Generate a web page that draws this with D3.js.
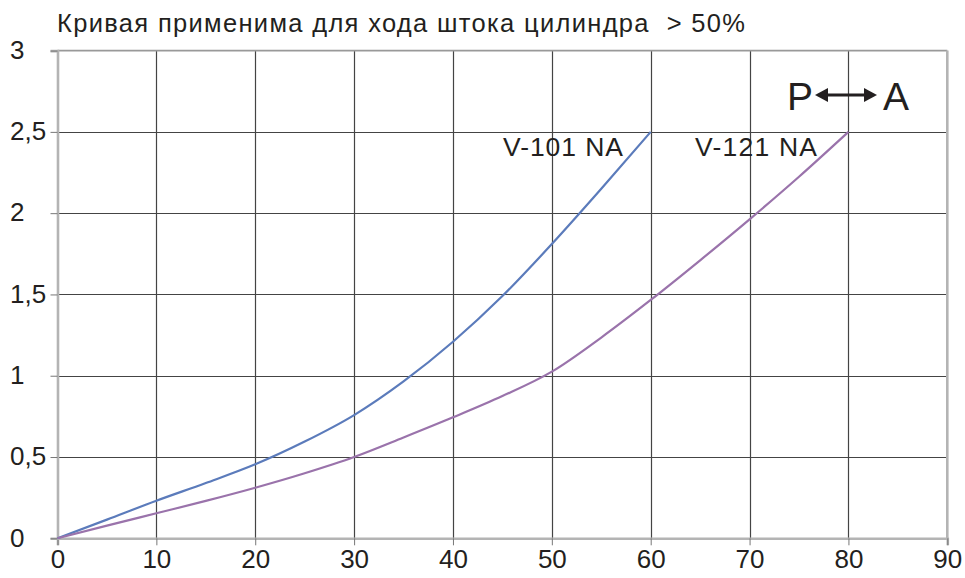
<!DOCTYPE html>
<html><head><meta charset="utf-8">
<script src="https://cdn.jsdelivr.net/npm/d3@7"></script>
<style>body{margin:0;background:#fff}svg{display:block}text{font-family:"Liberation Sans",Arial,sans-serif;fill:#231f20;white-space:pre}</style>
</head><body><svg id="c" width="965" height="578"></svg>
<script>
const title = "Кривая применима для хода штока цилиндра  > 50%";
const xTicks = [0,10,20,30,40,50,60,70,80,90];
const yTicks = [0,0.5,1,1.5,2,2.5,3];
const yTickLabels = ["0","0,5","1","1,5","2","2,5","3"];
const xV101 = [0,5,10,15,20,25,30,35,40,45,50,55,60];
const yV101 = [0,0.115,0.231,0.34,0.455,0.595,0.758,0.965,1.209,1.49,1.81,2.15,2.5];
const xV121 = [0,5,10,15,20,25,30,35,40,45,50,55,60,65,70,75,80];
const yV121 = [0,0.078,0.154,0.23,0.311,0.4,0.5,0.62,0.744,0.875,1.025,1.235,1.466,1.71,1.962,2.224,2.5];
const seriesNames = ["V-101 NA","V-121 NA"];
const flowLabels = ["P","A"];

const svg = d3.select("#c");
const x = d3.scaleLinear().domain([0,90]).range([57.5,947.3]);
const y = d3.scaleLinear().domain([0,3]).range([538.3,50.6]);

// grid
const g = svg.append("g");
g.selectAll(".vg").data(xTicks.slice(1,-1)).join("line")
  .attr("x1",d=>Math.round(x(d))+0.5).attr("x2",d=>Math.round(x(d))+0.5)
  .attr("y1",y(3)).attr("y2",y(0)).attr("stroke","#444").attr("stroke-width",1.2);
g.selectAll(".hg").data(yTicks.slice(1,-1)).join("line")
  .attr("y1",d=>Math.round(y(d))+0.5).attr("y2",d=>Math.round(y(d))+0.5)
  .attr("x1",x(0)).attr("x2",x(90)).attr("stroke","#444").attr("stroke-width",1.2);
g.append("line").attr("x1",x(0)).attr("x2",x(90)).attr("y1",y(3)).attr("y2",y(3)).attr("stroke","#999").attr("stroke-width",1.6);
g.append("line").attr("x1",x(90)).attr("x2",x(90)).attr("y1",y(3)).attr("y2",y(0)).attr("stroke","#b4b4b4").attr("stroke-width",2.6);

// axes
const xAxis = d3.axisBottom(x).tickValues(xTicks).tickSize(7).tickFormat(d=>d);
const ax = svg.append("g").attr("transform",`translate(0,${y(0)})`).call(xAxis);
ax.select(".domain").attr("stroke","#b4b4b4").attr("stroke-width",2.6);
ax.selectAll(".tick line").attr("stroke","#777");
ax.selectAll(".tick text").attr("font-size",26).attr("y",11).attr("dy","0.71em").attr("fill","#231f20")
  .style("font-family","'Liberation Sans',Arial,sans-serif");

const yAxis = d3.axisLeft(y).tickValues(yTicks).tickSize(7).tickFormat((d,i)=>yTickLabels[i]);
const ay = svg.append("g").attr("transform",`translate(${x(0)},0)`).call(yAxis);
ay.select(".domain").attr("stroke","#b4b4b4").attr("stroke-width",2.6);
ay.selectAll(".tick line").attr("stroke","#777");
ay.selectAll(".tick text").attr("font-size",26).attr("text-anchor","start").attr("x",10-x(0)).attr("dy","0.3em").attr("fill","#231f20")
  .style("font-family","'Liberation Sans',Arial,sans-serif");

// curves
const line = d3.line().x(d=>x(d[0])).y(d=>y(d[1])).curve(d3.curveMonotoneX);
svg.append("path").datum(xV101.map((v,i)=>[v,yV101[i]])).attr("d",line)
  .attr("fill","none").attr("stroke","#5b7bbb").attr("stroke-width",2.2);
svg.append("path").datum(xV121.map((v,i)=>[v,yV121[i]])).attr("d",line)
  .attr("fill","none").attr("stroke","#9a73ab").attr("stroke-width",2.2);

// series labels
svg.append("text").attr("x",503).attr("y",156).attr("font-size",26.5)
  .attr("textLength",120).attr("lengthAdjust","spacing").text(seriesNames[0]);
svg.append("text").attr("x",695).attr("y",156).attr("font-size",26.5)
  .attr("textLength",122).attr("lengthAdjust","spacing").text(seriesNames[1]);

// title
svg.append("text").attr("x",57).attr("y",32).attr("font-size",25.5)
  .attr("textLength",688).attr("lengthAdjust","spacing").text(title);

// P <-> A
svg.append("text").attr("x",787).attr("y",110).attr("font-size",39).text(flowLabels[0]);
svg.append("text").attr("x",883).attr("y",110).attr("font-size",39).text(flowLabels[1]);
const ay0 = 95;
svg.append("line").attr("x1",825).attr("x2",866).attr("y1",ay0).attr("y2",ay0).attr("stroke","#231f20").attr("stroke-width",3.2);
svg.append("path").attr("d",`M815,${ay0} L828,${ay0-7} L828,${ay0+7} Z`).attr("fill","#231f20");
svg.append("path").attr("d",`M877,${ay0} L864,${ay0-7} L864,${ay0+7} Z`).attr("fill","#231f20");
</script></body></html>
